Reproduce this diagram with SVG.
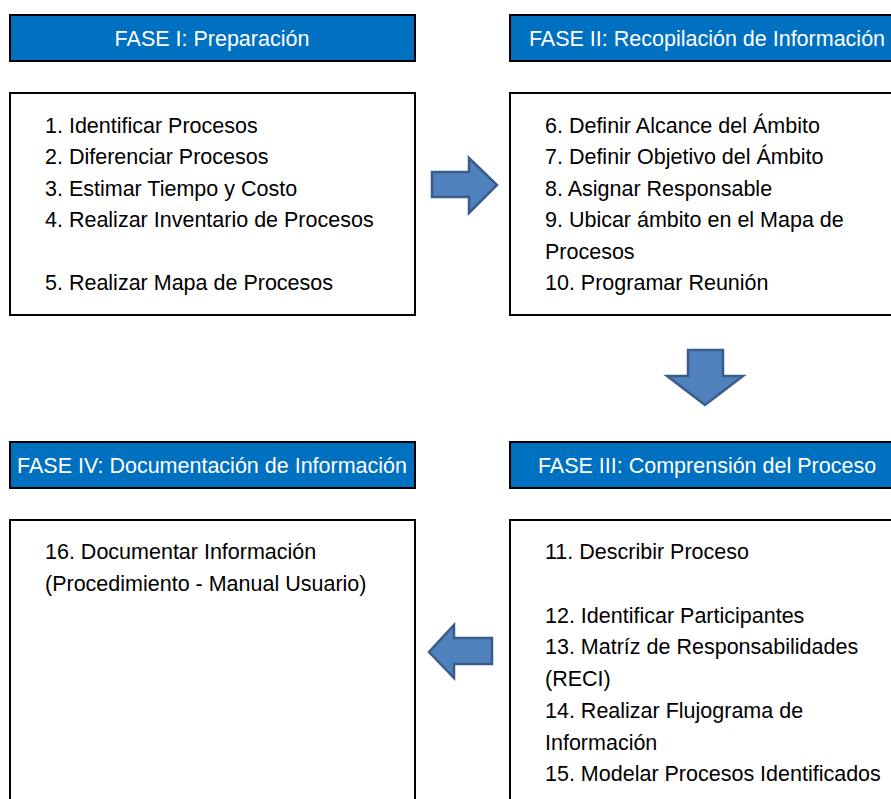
<svg xmlns="http://www.w3.org/2000/svg" width="891" height="799" viewBox="0 0 891 799">
  <style>
    .hdr { fill: #0070C0; stroke: #000; stroke-width: 2; }
    .body { fill: #fff; stroke: #000; stroke-width: 2; }
    .htxt { font-family: "Liberation Sans", Arial, sans-serif; font-size: 21.5px; fill: #fff; text-anchor: middle; }
    .txt { font-family: "Liberation Sans", Arial, sans-serif; font-size: 21.5px; fill: #000; }
    .arrow { fill: #4F81BD; stroke: #385D8A; stroke-width: 2.5; stroke-linejoin: miter; }
  </style>
  <rect width="891" height="799" fill="#fff"/>

  <!-- Phase I -->
  <g id="fase1">
    <rect class="hdr" x="10" y="15" width="405" height="46"/>
    <text class="htxt" x="212" y="46">FASE I: Preparación</text>
    <rect class="body" x="10" y="93" width="405" height="222"/>
    <text class="txt" x="45" y="133">1. Identificar Procesos</text>
    <text class="txt" x="45" y="164">2. Diferenciar Procesos</text>
    <text class="txt" x="45" y="196">3. Estimar Tiempo y Costo</text>
    <text class="txt" x="45" y="227">4. Realizar Inventario de Procesos</text>
    <text class="txt" x="45" y="290">5. Realizar Mapa de Procesos</text>
  </g>

  <!-- Phase II -->
  <g id="fase2">
    <rect class="hdr" x="510" y="15" width="400" height="46"/>
    <text class="htxt" x="707" y="46">FASE II: Recopilación de Información</text>
    <rect class="body" x="510" y="93" width="400" height="222"/>
    <text class="txt" x="545" y="133">6. Definir Alcance del Ámbito</text>
    <text class="txt" x="545" y="164">7. Definir Objetivo del Ámbito</text>
    <text class="txt" x="545" y="196">8. Asignar Responsable</text>
    <text class="txt" x="545" y="227">9. Ubicar ámbito en el Mapa de</text>
    <text class="txt" x="545" y="259">Procesos</text>
    <text class="txt" x="545" y="290">10. Programar Reunión</text>
  </g>

  <!-- Phase III -->
  <g id="fase3">
    <rect class="hdr" x="510" y="442" width="400" height="46"/>
    <text class="htxt" x="707" y="473">FASE III: Comprensión del Proceso</text>
    <rect class="body" x="510" y="520" width="400" height="300"/>
    <text class="txt" x="545" y="559">11. Describir Proceso</text>
    <text class="txt" x="545" y="623">12. Identificar Participantes</text>
    <text class="txt" x="545" y="654">13. Matríz de Responsabilidades</text>
    <text class="txt" x="545" y="686">(RECI)</text>
    <text class="txt" x="545" y="718">14. Realizar Flujograma de</text>
    <text class="txt" x="545" y="750">Información</text>
    <text class="txt" x="545" y="781">15. Modelar Procesos Identificados</text>
  </g>

  <!-- Phase IV -->
  <g id="fase4">
    <rect class="hdr" x="10" y="442" width="405" height="46"/>
    <text class="htxt" x="212" y="473">FASE IV: Documentación de Información</text>
    <rect class="body" x="10" y="520" width="405" height="300"/>
    <text class="txt" x="45" y="559">16. Documentar Información</text>
    <text class="txt" x="45" y="591">(Procedimiento - Manual Usuario)</text>
  </g>

  <!-- Block arrows between phases -->
  <g id="connectors">
    <polygon class="arrow" points="432,172 469,172 469,158 497,185 469,213 469,197 432,197"/>
    <polygon class="arrow" points="688,350 723,350 723,376 743,376 705,405 667,376 688,376"/>
    <polygon class="arrow" points="492,638 454,638 454,625 429,652 454,678 454,664 492,664"/>
  </g>
</svg>
